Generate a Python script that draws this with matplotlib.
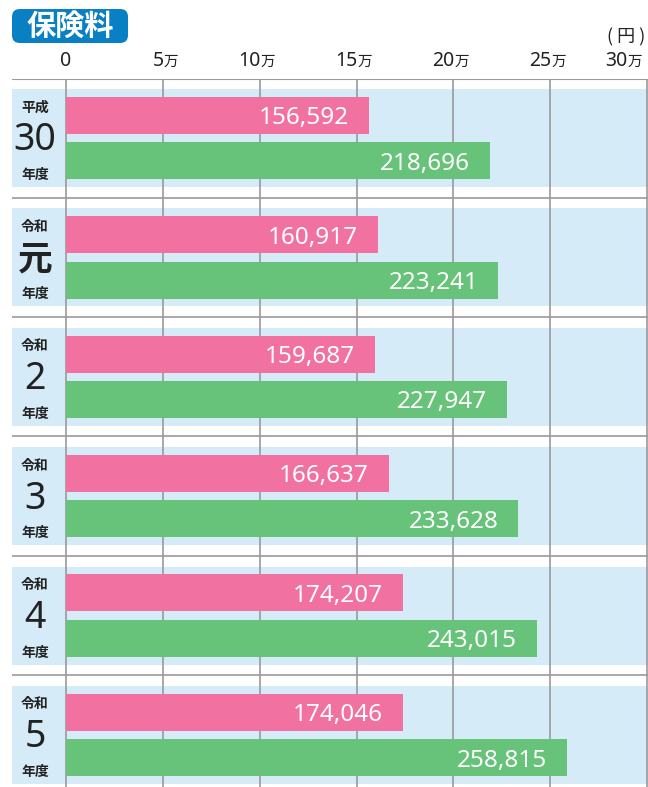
import matplotlib
matplotlib.use("Agg")
import matplotlib.pyplot as plt
from matplotlib.patches import FancyBboxPatch

plt.rcParams['font.family'] = ['Noto Sans CJK JP', 'DejaVu Sans']

# データ
eras = ['平成', '令和', '令和', '令和', '令和', '令和']
years = ['30', '元', '2', '3', '4', '5']
pink_vals = [156592, 160917, 159687, 166637, 174207, 174046]
green_vals = [218696, 223241, 227947, 233628, 243015, 258815]
tick_vals = [0, 50000, 100000, 150000, 200000, 250000, 300000]
tick_nums = ['0', '5', '10', '15', '20', '25', '30']

PINK = '#f172a0'
GREEN = '#67c27a'
BAND = '#d5ebf8'
GRID = '#9a9a9a'
TITLE_BLUE = '#0a80c4'
TXT = '#222222'
NUM_FONT = ['Noto Sans', 'DejaVu Sans']

W, H = 648, 787
fig = plt.figure(figsize=(W / 100, H / 100), dpi=100)

# 軸: 左端 x=12px, 右端 x=648px, 上端 y=79px
ax = fig.add_axes([12 / W, 0, 636 / W, (H - 79) / H])
px = 300000 / 581  # 1px あたりの円
ax.set_xlim(-54 * px, 582 * px)
ax.set_ylim(5.436, -0.494)
ax.axis('off')

n = len(years)
for i in range(n):
    ax.axhspan(i - 0.41, i + 0.41, color=BAND, lw=0, zorder=0)
    if i < n - 1:
        ax.axhline(i + 0.5, color=GRID, lw=1.2, zorder=1)
ax.axhline(-0.494, color=GRID, lw=1.5, zorder=1)

for v in tick_vals:
    ax.axvline(v, color=GRID, lw=1.2, zorder=1)

bh = 0.31
ypos = list(range(n))
ax.barh([y - 0.19 for y in ypos], pink_vals, height=bh, color=PINK, zorder=2)
ax.barh([y + 0.19 for y in ypos], green_vals, height=bh, color=GREEN, zorder=2)

for i in range(n):
    ax.text(pink_vals[i] - 20 * px, i - 0.19, f'{pink_vals[i]:,}', color='white',
            fontsize=17.5, family=NUM_FONT, ha='right', va='center_baseline', zorder=3)
    ax.text(green_vals[i] - 20 * px, i + 0.19, f'{green_vals[i]:,}', color='white',
            fontsize=17.5, family=NUM_FONT, ha='right', va='center_baseline', zorder=3)
    # 左側の年度ラベル
    ax.text(-31 * px, i - 0.255, eras[i], fontsize=10, fontweight='bold',
            ha='center', va='center', color=TXT)
    if years[i] == '元':
        ax.text(-31 * px, i + 0.01, years[i], fontsize=25, fontweight='bold',
                ha='center', va='center', color=TXT)
    else:
        ax.text(-31 * px, i + 0.02, years[i], fontsize=27, family=NUM_FONT,
                ha='center', va='center', color=TXT)
    ax.text(-31 * px, i + 0.31, '年度', fontsize=10, fontweight='bold',
            ha='center', va='center', color=TXT)

# 目盛ラベル
for v, t in zip(tick_vals, tick_nums):
    xf = (66 + v / px) / W
    yf = 1 - 61 / H
    if v == 0:
        fig.text(xf, yf, t, fontsize=14, family=NUM_FONT, ha='center', va='center', color=TXT)
    elif v == tick_vals[-1]:
        fig.text(xf - 20 / W, yf, t, fontsize=14, family=NUM_FONT, ha='right', va='center', color=TXT)
        fig.text(xf - 19 / W, 1 - 62 / H, '万', fontsize=10.5, ha='left', va='center', color=TXT)
    else:
        fig.text(xf + 1 / W, yf, t, fontsize=14, family=NUM_FONT, ha='right', va='center', color=TXT)
        fig.text(xf + 1 / W, 1 - 62 / H, '万', fontsize=10.5, ha='left', va='center', color=TXT)
fig.text(645 / W, 1 - 37 / H, '( 円 )', fontsize=13, ha='right', va='center', color=TXT)

# タイトル
fig.patches.append(FancyBboxPatch((12 / W, 1 - 43 / H), 116 / W, 34 / H,
                                  boxstyle='round,pad=0,rounding_size=0.012',
                                  transform=fig.transFigure, fc=TITLE_BLUE, ec='none',
                                  mutation_aspect=W / H))
fig.text(70 / W, 1 - 26 / H, '保険料', fontsize=21, fontweight='bold', color='white',
         ha='center', va='center')

fig.savefig('out.png', dpi=100)
